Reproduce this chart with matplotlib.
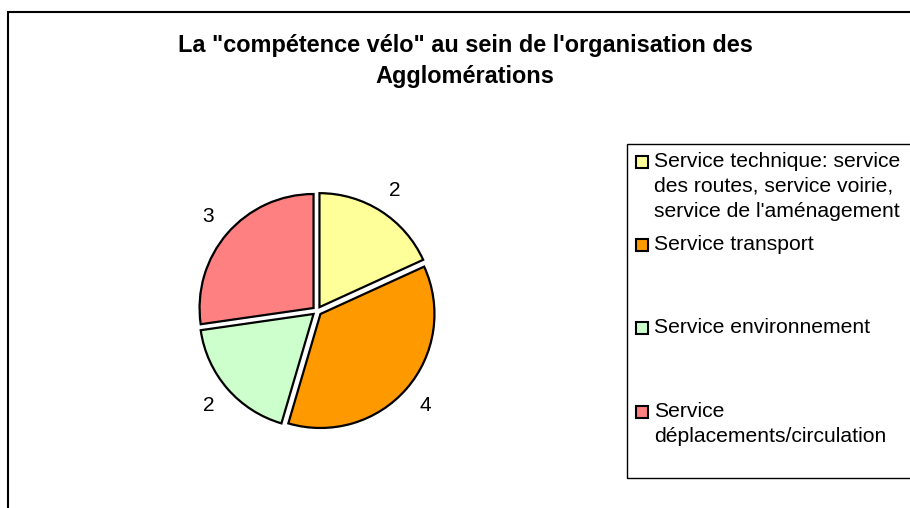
import matplotlib.pyplot as plt
from matplotlib.patches import Rectangle

plt.rcParams['font.family'] = ['Liberation Sans', 'DejaVu Sans']

# données
categories = [
    "Service technique: service\ndes routes, service voirie,\nservice de l'aménagement",
    "Service transport",
    "Service environnement",
    "Service\ndéplacements/circulation",
]
valeurs = [2, 4, 2, 3]
couleurs = ["#FFFF99", "#FF9900", "#CCFFCC", "#FF8080"]
titre = "La \"compétence vélo\" au sein de l'organisation des\nAgglomérations"

W, H = 910, 508
fig = plt.figure(figsize=(W / 100, H / 100), dpi=100)

# cadre du graphique (déborde à droite et en bas comme dans l'original)
fig.patches.append(Rectangle((8 / W, -0.1), 1.2, (H - 12) / H + 0.1,
                             transform=fig.transFigure, fill=False,
                             edgecolor="black", linewidth=1.5))

fig.text(465 / W, 1 - 61 / H, titre, ha="center", va="center",
         fontsize=16.9, fontweight="bold", linespacing=1.45)

# camembert
cx, cy, r = 317, 311, 114
taille = 3 * r
ax = fig.add_axes([(cx - taille / 2) / W, (H - cy - taille / 2) / H,
                   taille / W, taille / H])
wedges, textes = ax.pie(
    valeurs,
    labels=[str(v) for v in valeurs],
    colors=couleurs,
    startangle=90,
    counterclock=False,
    explode=[0.04] * len(valeurs),
    labeldistance=1.22,
    wedgeprops=dict(edgecolor="black", linewidth=1.6),
    textprops=dict(fontsize=15),
)
for t in textes:
    t.set_ha("center")
    t.set_va("center")
ax.set_xlim(-1.5, 1.5)
ax.set_ylim(-1.5, 1.5)
ax.set_aspect("equal")
ax.axis("off")

# légende (entrées réparties sur la hauteur, comme dans Excel)
fig.patches.append(Rectangle((627 / W, 1 - 478 / H), 1.0, (478 - 144) / H,
                             transform=fig.transFigure, fill=False,
                             edgecolor="black", linewidth=1.0))
y_entrees = [162, 245, 328, 412]
for lab, col, y in zip(categories, couleurs, y_entrees):
    fig.patches.append(Rectangle((636 / W, 1 - (y + 6) / H), 12 / W, 12 / H,
                                 transform=fig.transFigure, facecolor=col,
                                 edgecolor="black", linewidth=1.5))
    fig.text(654 / W, 1 - (y - 10) / H, lab, ha="left", va="top",
             fontsize=15.2, linespacing=1.4)

fig.savefig("out.png", dpi=100)
